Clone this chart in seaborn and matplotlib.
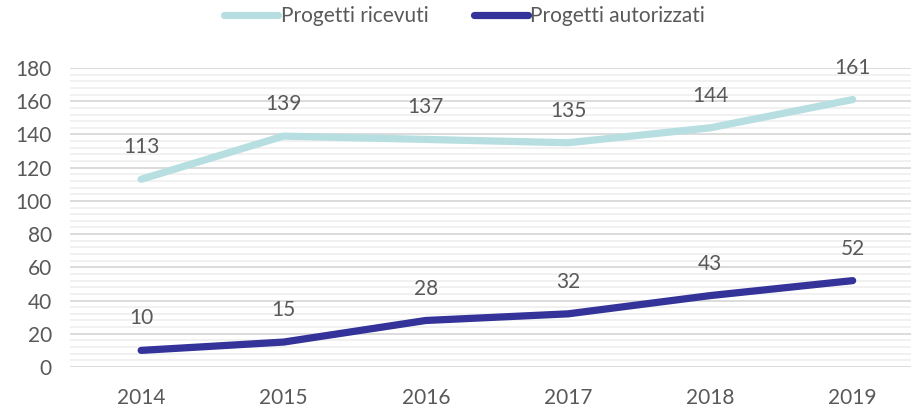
import pandas as pd
import numpy as np
import matplotlib.pyplot as plt
import seaborn as sns
from matplotlib.ticker import MultipleLocator

# Data
anni = ['2014', '2015', '2016', '2017', '2018', '2019']
ricevuti = [113, 139, 137, 135, 144, 161]
autorizzati = [10, 15, 28, 32, 43, 52]
serie_nomi = ['Progetti ricevuti', 'Progetti autorizzati']
colori = ['#B7DEE1', '#333399']

df = pd.DataFrame({
    'anno': anni * 2,
    'pos': list(range(len(anni))) * 2,
    'valore': ricevuti + autorizzati,
    'serie': [serie_nomi[0]] * len(anni) + [serie_nomi[1]] * len(anni),
})

sns.set_theme(style='white')
plt.rcParams['font.family'] = ['Lato', 'DejaVu Sans']
testo = '#595959'
fs = 15

fig = plt.figure(figsize=(9.11, 4.09), dpi=100)
ax = fig.add_axes([70 / 911, (409 - 367) / 409, (911 - 70) / 911, (367 - 68) / 409])

sns.lineplot(data=df, x='pos', y='valore', hue='serie', palette=colori,
             linewidth=5.2, ax=ax, legend=False, solid_capstyle='round',
             solid_joinstyle='round', zorder=3)

# etichette sopra i punti
for serie, vals in zip(serie_nomi, [ricevuti, autorizzati]):
    for i, v in enumerate(vals):
        ax.annotate(str(v), (i, v), xytext=(0, 23), textcoords='offset points',
                    ha='center', va='center', fontsize=fs, color=testo)

ax.set_ylim(0, 180)
ax.set_xlim(-0.5, 5.41)
ax.yaxis.set_major_locator(MultipleLocator(20))
ax.yaxis.set_minor_locator(MultipleLocator(4))
ax.grid(which='major', axis='y', color='#D9D9D9', linewidth=1.3)
ax.grid(which='minor', axis='y', color='#F0F0F0', linewidth=1.3)
ax.set_axisbelow(True)
ax.set_xticks(range(len(anni)))
ax.set_xticklabels(anni)
ax.tick_params(axis='both', length=0, labelsize=fs, labelcolor=testo)
ax.tick_params(axis='x', pad=15)
ax.tick_params(axis='y', pad=13)
ax.set_xlabel('')
ax.set_ylabel('')
sns.despine(ax=ax, left=True, bottom=True)

handles = [plt.Line2D([0], [0], color=c, linewidth=5.2, solid_capstyle='round') for c in colori]
fig.legend(handles, serie_nomi, loc='center', bbox_to_anchor=(0.51, 1 - 16 / 409),
           ncol=2, frameon=False, fontsize=fs, labelcolor=testo,
           handlelength=2.6, handletextpad=0.1, columnspacing=2.2)

fig.savefig('out.png', dpi=100)
